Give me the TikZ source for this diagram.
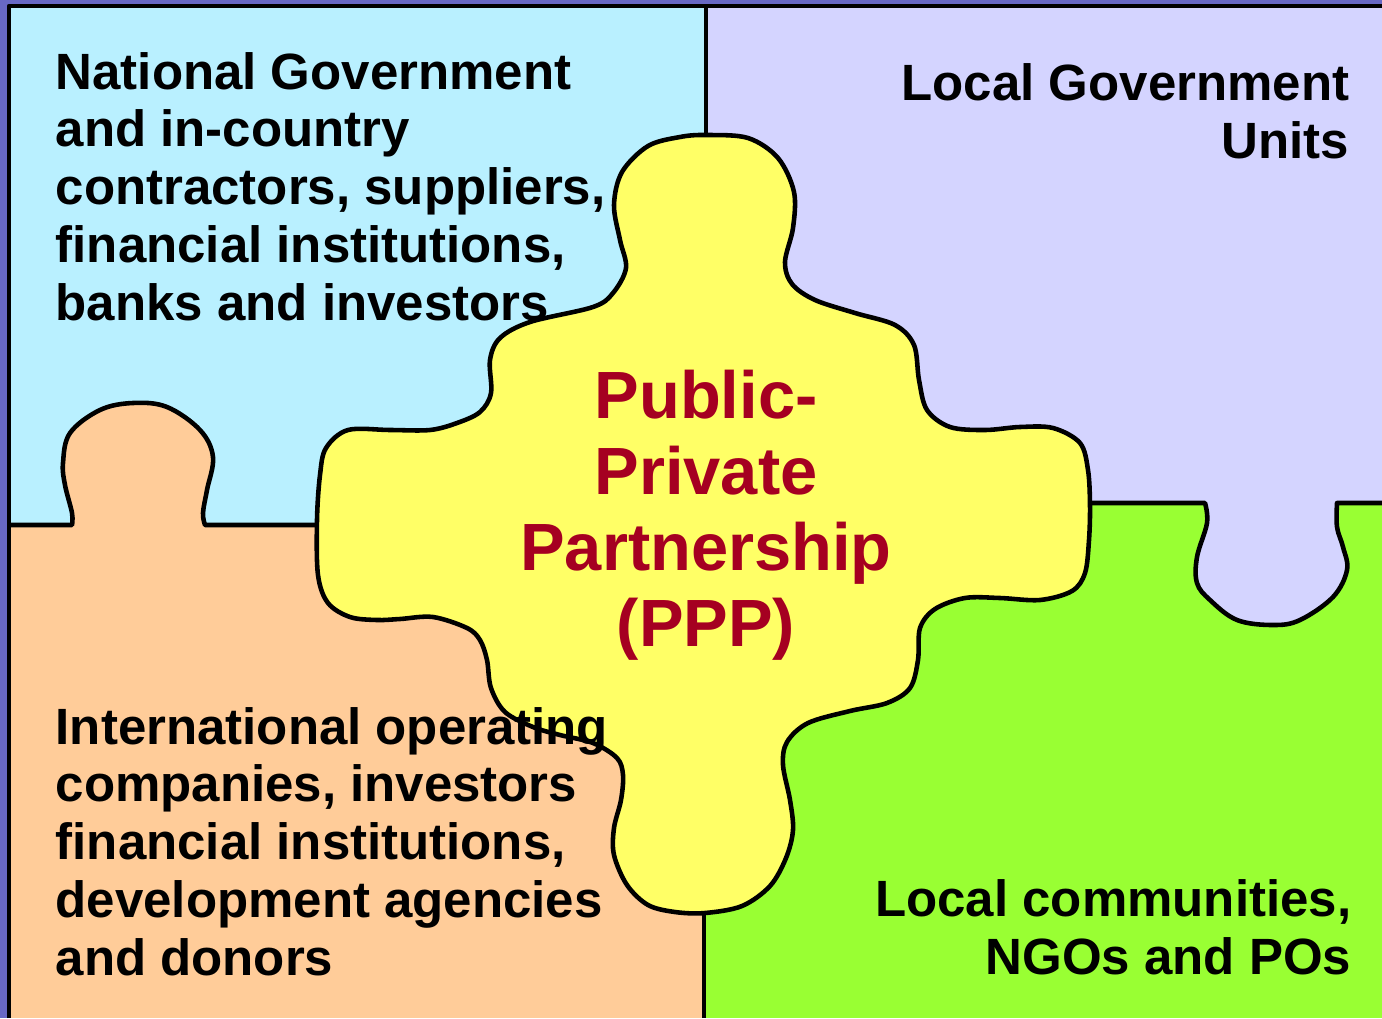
\documentclass[tikz,border=0pt]{standalone}
\usepackage{fontspec}
\setmainfont{Liberation Sans}

\definecolor{backblue}{RGB}{104,104,196}
\definecolor{tilecyan}{RGB}{185,240,255}
\definecolor{tilelilac}{RGB}{212,212,255}
\definecolor{tilepeach}{RGB}{255,204,153}
\definecolor{tilegreen}{RGB}{153,255,51}
\definecolor{tileyellow}{RGB}{255,255,102}
\definecolor{ppptext}{RGB}{165,0,33}

\begin{document}
\begin{tikzpicture}[
            x = 0.01cm, y = -0.01cm, % pixel grid, y runs down
            line join = round,
            seam/.style = {line width = 1.3pt}, % black puzzle edges
            grouptext/.style = {
                inner sep = 0pt,
                font = \bfseries\fontsize{14.5}{16.4}\selectfont
            }
        ]

        \useasboundingbox (0,0) rectangle (1382,1018);
        \fill[backblue] (0,0) rectangle (1382,1018);

        % the four tiles
        \fill[tilecyan] (9,6) rectangle (706,525);
        \fill[tilelilac] (706,6) rectangle (1382,503);
        \fill[tilepeach] (9,525) rectangle (704,1018);
        \fill[tilegreen] (704,503) rectangle (1382,1018);

        % knobs
        \fill[tilepeach] plot[smooth, tension=0.6] coordinates {(72,526) (72,513) (65,485) (63,463) (70,433) (100,410) (133,403) (167,407) (200,430) (213,457) (207,490) (203,513) (205,526)} -- cycle;
        \fill[tilelilac] plot[smooth, tension=0.6] coordinates {(1205,502) (1207,523) (1197,557) (1197,583) (1210,600) (1237,620) (1273,625) (1300,620) (1333,597) (1347,570) (1343,547) (1337,527) (1337,502)} -- cycle;

        \draw[seam] (9,525) -- plot[smooth, tension=0.6] coordinates {(72,525) (72,513) (65,485) (63,463) (70,433) (100,410) (133,403) (167,407) (200,430) (213,457) (207,490) (203,513) (205,525)} -- (330,525);
        \draw[seam] (1080,503) -- plot[smooth, tension=0.6] coordinates {(1205,503) (1207,523) (1197,557) (1197,583) (1210,600) (1237,620) (1273,625) (1300,620) (1333,597) (1347,570) (1343,547) (1337,527) (1337,503)} -- (1382,503);
        \draw[seam] (706,6) -- (706,150);
        \draw[seam] (704,900) -- (704,1018);

        % frame
        \draw[seam] (9,1018) -- (9,6) -- (1382,6);

        % centre piece
        \draw[seam, fill=tileyellow] plot[smooth cycle, tension=0.55] coordinates {
            (706,135) (748,138) (778,158) (794,192) (793,228) (785,262) (792,284)
            (815,300) (855,313) (895,325) (914,345) (919,380) (927,410) (950,427)
            (985,430) (1020,427) (1053,428) (1080,443) (1088,470) (1090,505)
            (1089,540) (1085,573) (1072,591) (1040,600) (1000,598) (965,598)
            (935,609) (920,628) (918,660) (910,688) (887,703) (850,711) (808,723)
            (787,742) (783,765) (790,800) (793,830) (786,858) (770,886) (742,906)
            (705,913) (675,912) (648,905) (627,885) (614,855) (614,828) (621,800)
            (623,775) (617,758) (593,743) (560,735) (533,727) (505,712) (491,688)
            (487,660) (480,640) (467,628) (433,617) (400,619) (377,620) (350,617)
            (328,603) (318,575) (317,520) (320,475) (326,448) (348,430) (390,430)
            (430,430) (457,423) (480,412) (491,393) (490,360) (500,338) (530,322)
            (593,307) (613,293) (626,268) (620,240) (614,205) (622,172) (648,146)
            (680,137)};

        % labels (base anchor = last line)
        \node[grouptext, anchor=base west, align=left] (natgov) at (55,320)
            {National Government\\and in-country\\contractors, suppliers,\\financial institutions,\\banks and investors};
        \node[grouptext, anchor=base east, align=right] (localgov) at (1350,158)
            {Local Government\\Units};
        \node[grouptext, anchor=base west, align=left] (intl) at (55,975)
            {International operating\\companies, investors\\financial institutions,\\development agencies\\and donors};
        \node[grouptext, anchor=base east, align=right] (community) at (1352,974)
            {Local communities,\\NGOs and POs};

        \node[inner sep=0pt, align=center, text=ppptext,
              font=\bfseries\fontsize{19}{21.6}\selectfont] (ppp) at (706,515)
            {Public-\\Private\\Partnership\\(PPP)};

\end{tikzpicture}
\end{document}
